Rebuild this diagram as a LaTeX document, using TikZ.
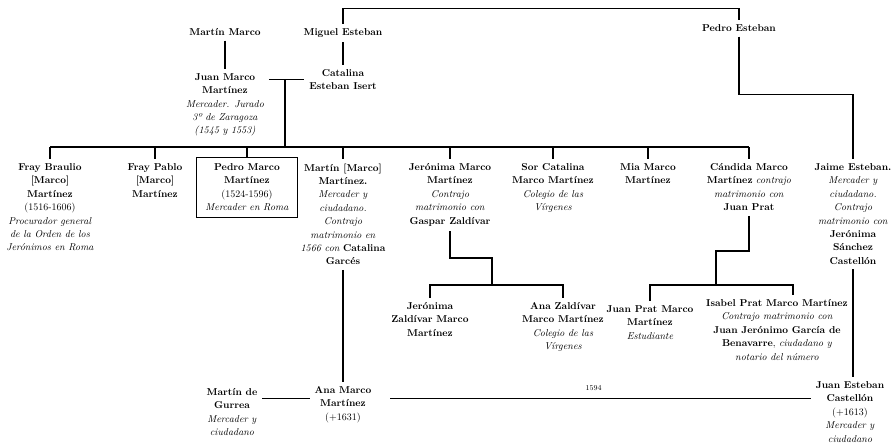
\documentclass[tikz,border=0pt]{standalone}
\usepackage{tikz}

\begin{document}
\begin{tikzpicture}[x=1pt, y=-1pt, person/.style={align=center, inner sep=3pt, outer sep=2pt, anchor=north, font=\fontsize{10}{13.4}\selectfont}, pbox/.style={person, draw, line width=0.7pt, inner xsep=9pt, inner ysep=6.5pt, outer sep=0pt}, link/.style={line width=1.3pt}, date/.style={font=\fontsize{7.5}{9}\selectfont, inner sep=1pt}]
\useasboundingbox (0,0) rectangle (892,445);
\node[person] (martin) at (225,23.5) {\textbf{Martín Marco}};
\node[person] (juan) at (225,68.5) {\textbf{Juan Marco}\\\textbf{Martínez}\\\textit{Mercader. Jurado}\\\textit{3º de Zaragoza}\\\textit{(1545 y 1553)}};
\node[person] (miguel) at (343,23.5) {\textbf{Miguel Esteban}};
\node[person] (catalinaei) at (343,64.5) {\textbf{Catalina}\\\textbf{Esteban Isert}};
\node[person] (pedroe) at (739,19.5) {\textbf{Pedro Esteban}};
\node[person] (braulio) at (50,158.5) {\textbf{Fray Braulio}\\\textbf{[Marco]}\\\textbf{Martínez}\\(1516-1606)\\\textit{Procurador general}\\\textit{de la Orden de los}\\\textit{Jerónimos en Roma}};
\node[person] (pablo) at (155,158.5) {\textbf{Fray Pablo}\\\textbf{[Marco]}\\\textbf{Martínez}};
\node[pbox] (pedromm) at (247,157) {\textbf{Pedro Marco}\\\textbf{Martínez}\\(1524-1596)\\\textit{Mercader en Roma}};
\node[person] (martinmm) at (343,158.5) {\textbf{Martín [Marco]}\\\textbf{Martínez.}\\\textit{Mercader y}\\\textit{ciudadano.}\\\textit{Contrajo}\\\textit{matrimonio en}\\\textit{1566 con} \textbf{Catalina}\\\textbf{Garcés}};
\node[person] (jeronima) at (450,158.5) {\textbf{Jerónima Marco}\\\textbf{Martínez}\\\textit{Contrajo}\\\textit{matrimonio con}\\\textbf{Gaspar Zaldívar}};
\node[person] (sorcat) at (553,158.5) {\textbf{Sor Catalina}\\\textbf{Marco Martínez}\\\textit{Colegio de las}\\\textit{Vírgenes}};
\node[person] (mia) at (648,158.5) {\textbf{Mia Marco}\\\textbf{Martínez}};
\node[person] (candida) at (749,158.5) {\textbf{Cándida Marco}\\\textbf{Martínez} \textit{contrajo}\\\textit{matrimonio con}\\\textbf{Juan Prat}};
\node[person] (jaime) at (853,158.5) {\textbf{Jaime Esteban.}\\\textit{Mercader y}\\\textit{ciudadano.}\\\textit{Contrajo}\\\textit{matrimonio con}\\\textbf{Jerónima}\\\textbf{Sánchez}\\\textbf{Castellón}};
\node[person] (jeronimaz) at (430,297.5) {\textbf{Jerónima}\\\textbf{Zaldívar Marco}\\\textbf{Martínez}};
\node[person] (anaz) at (563,297.5) {\textbf{Ana Zaldívar}\\\textbf{Marco Martínez}\\\textit{Colegio de las}\\\textit{Vírgenes}};
\node[person] (juanprat) at (650,300.5) {\textbf{Juan Prat Marco}\\\textbf{Martínez}\\\textit{Estudiante}};
\node[person] (isabel) at (777,294.5) {\textbf{Isabel Prat Marco Martínez}\\\textit{Contrajo matrimonio con}\\\textbf{Juan Jerónimo García de}\\\textbf{Benavarre}, \textit{ciudadano y}\\\textit{notario del número}};
\node[person] (gurrea) at (232,383.5) {\textbf{Martín de}\\\textbf{Gurrea}\\\textit{Mercader y}\\\textit{ciudadano}};
\node[person] (ana) at (343,381.5) {\textbf{Ana Marco}\\\textbf{Martínez}\\(+1631)};
\node[person] (juanest) at (850,376.5) {\textbf{Juan Esteban}\\\textbf{Castellón}\\(+1613)\\\textit{Mercader y}\\\textit{ciudadano}};
\coordinate (famA) at (284,147);
\coordinate (famJ) at (492,285);
\coordinate (famC) at (716,285);
\coordinate (wedB) at ([yshift=6pt]ana.west);
\draw[link] (martin.south) -- (juan.north);
\draw[link] (miguel.south) -- (catalinaei.north);
\draw[link] (miguel.north) -- ++(0,-15) -| (pedroe.north);
\draw[link] (pedroe.south) -- ++(0,58) -| (jaime.north);
\draw[link] (juan.east |- catalinaei.west) -- coordinate[pos=0.45] (wedA) (catalinaei.west);
\draw[link] (wedA) -- (wedA |- famA);
\draw[link] (braulio.north |- famA) -- (candida.north |- famA);
\foreach \c in {braulio,pablo,pedromm,martinmm,jeronima,sorcat,mia,candida}
  \draw[link] (\c.north) -- (\c.north |- famA);
\draw[link] (jeronima.south) -- ++(0,27) -| (famJ);
\draw[link] (jeronimaz.north) -- (jeronimaz.north |- famJ) -- (anaz.north |- famJ) -- (anaz.north);
\draw[link] (candida.south) -- ++(0,35) -| (famC);
\draw[link] (juanprat.north) -- (juanprat.north |- famC) -- ([xshift=16pt]isabel.north |- famC) -- ([xshift=16pt]isabel.north);
\draw[link] (martinmm.south) -- (ana.north);
\draw[link] (jaime.south) -- (jaime.south |- juanest.north);
\draw[link] (gurrea.east |- wedB) -- (wedB);
\draw[link, shorten <=14pt] ([yshift=6pt]ana.east) -- node[date, pos=0.5, above=6pt]{1594} ([yshift=6pt]ana.east -| juanest.west);
\end{tikzpicture}
\end{document}
